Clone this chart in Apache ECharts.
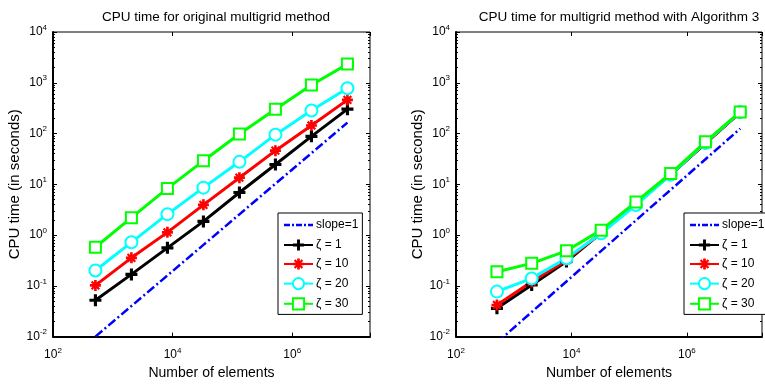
<!DOCTYPE html>
<html>
<head>
<meta charset="utf-8">
<script src="https://cdn.jsdelivr.net/npm/echarts@6/dist/echarts.min.js"></script>
<style>
  html, body { margin: 0; padding: 0; background: #fff; }
  #chart { width: 765px; height: 385px; }
</style>
</head>
<body>
<div id="chart"></div>
<script>
// number of elements on the x axis
const elements = [512, 2048, 8192, 32768, 131072, 524288, 2097152, 8388608]

// left panel: original multigrid method
const slopeLeft = [0.01, 0.04, 0.16, 0.64, 2.56, 10.24, 40.96, 163.84]
const z1Left = [0.052, 0.168, 0.56, 1.86, 6.9, 24.6, 88, 302]
const z10Left = [0.102, 0.356, 1.13, 3.94, 13.5, 46, 144, 460]
const z20Left = [0.20, 0.72, 2.58, 8.6, 27.7, 95, 284, 778]
const z30Left = [0.575, 2.2, 8.3, 29, 98, 302, 904, 2330]

// right panel: multigrid with Algorithm 3
const slopeRight = [0.0076, 0.0305, 0.122, 0.488, 1.95, 7.8, 31.2, 125]
const z1Right = [0.036, 0.104, 0.30, 1.10, 4.1, 15.5, 64, 260]
const z10Right = [0.042, 0.121, 0.32, 1.11, 4.2, 15.8, 65, 262]
const z20Right = [0.077, 0.14, 0.35, 1.08, 3.9, 15.5, 66, 265]
const z30Right = [0.19, 0.277, 0.49, 1.25, 4.5, 16.3, 68.6, 267]

const seriesNames = ['slope=1', 'ζ = 1', 'ζ = 10', 'ζ = 20', 'ζ = 30']
const titles = ['CPU time for original multigrid method', 'CPU time for multigrid method with Algorithm 3']

// tick label exponents
const xTickExps = [2, 4, 6]
const yTickExps = [-2, -1, 0, 1, 2, 3, 4]

const plusPath = 'path://M-1.3,-5H1.3V5H-1.3Z M-5,-1.3H5V1.3H-5Z'
const starPath = 'path://M-1.2,-5H1.2V5H-1.2Z M-5,-1.2H5V1.2H-5Z M-2.8,-4.2L4.2,2.8L2.8,4.2L-4.2,-2.8Z M2.8,-4.2L4.2,-2.8L-2.8,4.2L-4.2,2.8Z'
// dash-dot legend key, padded with zero-area corners so it keeps its box
const dashDotIcon = 'path://M0,0L0.01,0Z M29,14L28.99,14Z M0,5.8H6V8.2H0Z M8,5.8H10V8.2H8Z M12,5.8H18V8.2H12Z M20,5.8H22V8.2H20Z M24,5.8H29V8.2H24Z'

const FONT = 'Liberation Sans, Arial, sans-serif'

function pairs(ys) {
  return elements.map((x, i) => [x, ys[i]])
}

function powLabel(allowed) {
  return function (v) {
    const e = Math.round(Math.log10(v))
    if (Math.abs(Math.log10(v) - e) > 1e-6 || allowed.indexOf(e) < 0) return ''
    return '{b|10}{e|' + e + '}'
  }
}

const richLabel = {
  b: { fontSize: 12, fontFamily: FONT, color: '#000' },
  e: { fontSize: 8, fontFamily: FONT, color: '#000', padding: [0, 0, 9, 0] }
}

const grids = [
  { left: 53, top: 32, width: 317, height: 306 },
  { left: 456, top: 32, width: 317, height: 306 }
]

const xAxes = []
const yAxes = []
grids.forEach((g, gi) => {
  xAxes.push({
    type: 'log', gridIndex: gi, min: 100, max: 2e7, interval: 2,
    name: 'Number of elements', nameLocation: 'middle', nameGap: 28,
    nameTextStyle: { fontSize: 14, fontFamily: FONT, color: '#000' },
    axisLine: { lineStyle: { color: '#000', width: 2 } },
    axisTick: { inside: true, length: 4, lineStyle: { color: '#000' } },
    axisLabel: { formatter: powLabel(xTickExps), rich: richLabel, margin: 10 },
    splitLine: { show: false }
  })
  xAxes.push({
    type: 'log', gridIndex: gi, position: 'top', min: 100, max: 2e7, interval: 2,
    axisLine: { show: false },
    axisTick: { inside: true, length: 4, lineStyle: { color: '#000' } },
    axisLabel: { show: false },
    splitLine: { show: false }
  })
  yAxes.push({
    type: 'log', gridIndex: gi, min: 0.01, max: 10000, interval: 1,
    name: 'CPU time (in seconds)', nameLocation: 'middle', nameGap: 27,
    nameTextStyle: { fontSize: 15, fontFamily: FONT, color: '#000' },
    axisLine: { lineStyle: { color: '#000', width: 2 } },
    axisTick: { inside: true, length: 4, lineStyle: { color: '#000' } },
    minorTick: { show: true, splitNumber: 9, length: 2, lineStyle: { color: '#000' } },
    axisLabel: { formatter: powLabel(yTickExps), rich: richLabel, margin: 6 },
    splitLine: { show: false }
  })
  yAxes.push({
    type: 'log', gridIndex: gi, position: 'right', min: 0.01, max: 10000, interval: 1,
    axisLine: { show: false },
    axisTick: { inside: true, length: 4, lineStyle: { color: '#000' } },
    minorTick: { show: true, splitNumber: 9, length: 2, lineStyle: { color: '#000' } },
    axisLabel: { show: false },
    splitLine: { show: false }
  })
})

const panels = [
  [slopeLeft, z1Left, z10Left, z20Left, z30Left],
  [slopeRight, z1Right, z10Right, z20Right, z30Right]
]
const colors = ['#0000ff', '#000000', '#ff0000', '#00ffff', '#00ff00']
const symbols = ['none', plusPath, starPath, 'emptyCircle', 'emptyRect']
const sizes = [0, 12, 11, 12, 11]

const series = []
panels.forEach((sets, gi) => {
  sets.forEach((ys, si) => {
    series.push({
      name: seriesNames[si],
      type: 'line',
      xAxisIndex: gi * 2,
      yAxisIndex: gi * 2,
      data: pairs(ys),
      symbol: symbols[si],
      symbolSize: sizes[si],
      showSymbol: si > 0,
      color: colors[si],
      lineStyle: si === 0
        ? { color: colors[si], width: 2.5, type: [9, 3, 2, 3] }
        : { color: colors[si], width: 3 },
      itemStyle: { color: colors[si], borderWidth: 2.5 },
      animation: false,
      silent: true
    })
  })
})

const legendData = seriesNames.map((n, i) => i === 0 ? { name: n, icon: dashDotIcon } : n)

const legendBase = {
  orient: 'vertical',
  top: 213,
  data: legendData,
  itemWidth: 29,
  itemHeight: 14,
  itemGap: 7,
  padding: [5, 4, 4, 5],
  borderColor: '#000',
  borderWidth: 1,
  backgroundColor: '#fff',
  selectedMode: false,
  textStyle: { fontSize: 12, fontFamily: FONT, color: '#000', padding: [0, 0, 0, -2] }
}

const titleStyle = { fontSize: 13.5, fontWeight: 'normal', fontFamily: FONT, color: '#000' }

const option = {
  animation: false,
  title: [
    { text: titles[0], left: 211, top: 5, textAlign: 'center', textStyle: titleStyle },
    { text: titles[1], left: 614, top: 5, textAlign: 'center', textStyle: titleStyle }
  ],
  grid: grids.map(g => Object.assign({ show: true, borderColor: '#000', borderWidth: 1, backgroundColor: '#fff' }, g)),
  xAxis: xAxes,
  yAxis: yAxes,
  legend: [
    Object.assign({ left: 278 }, legendBase),
    Object.assign({ left: 684 }, legendBase)
  ],
  series: series
}

const chart = echarts.init(document.getElementById('chart'), null, { renderer: 'canvas' })
chart.setOption(option)
</script>
</body>
</html>
